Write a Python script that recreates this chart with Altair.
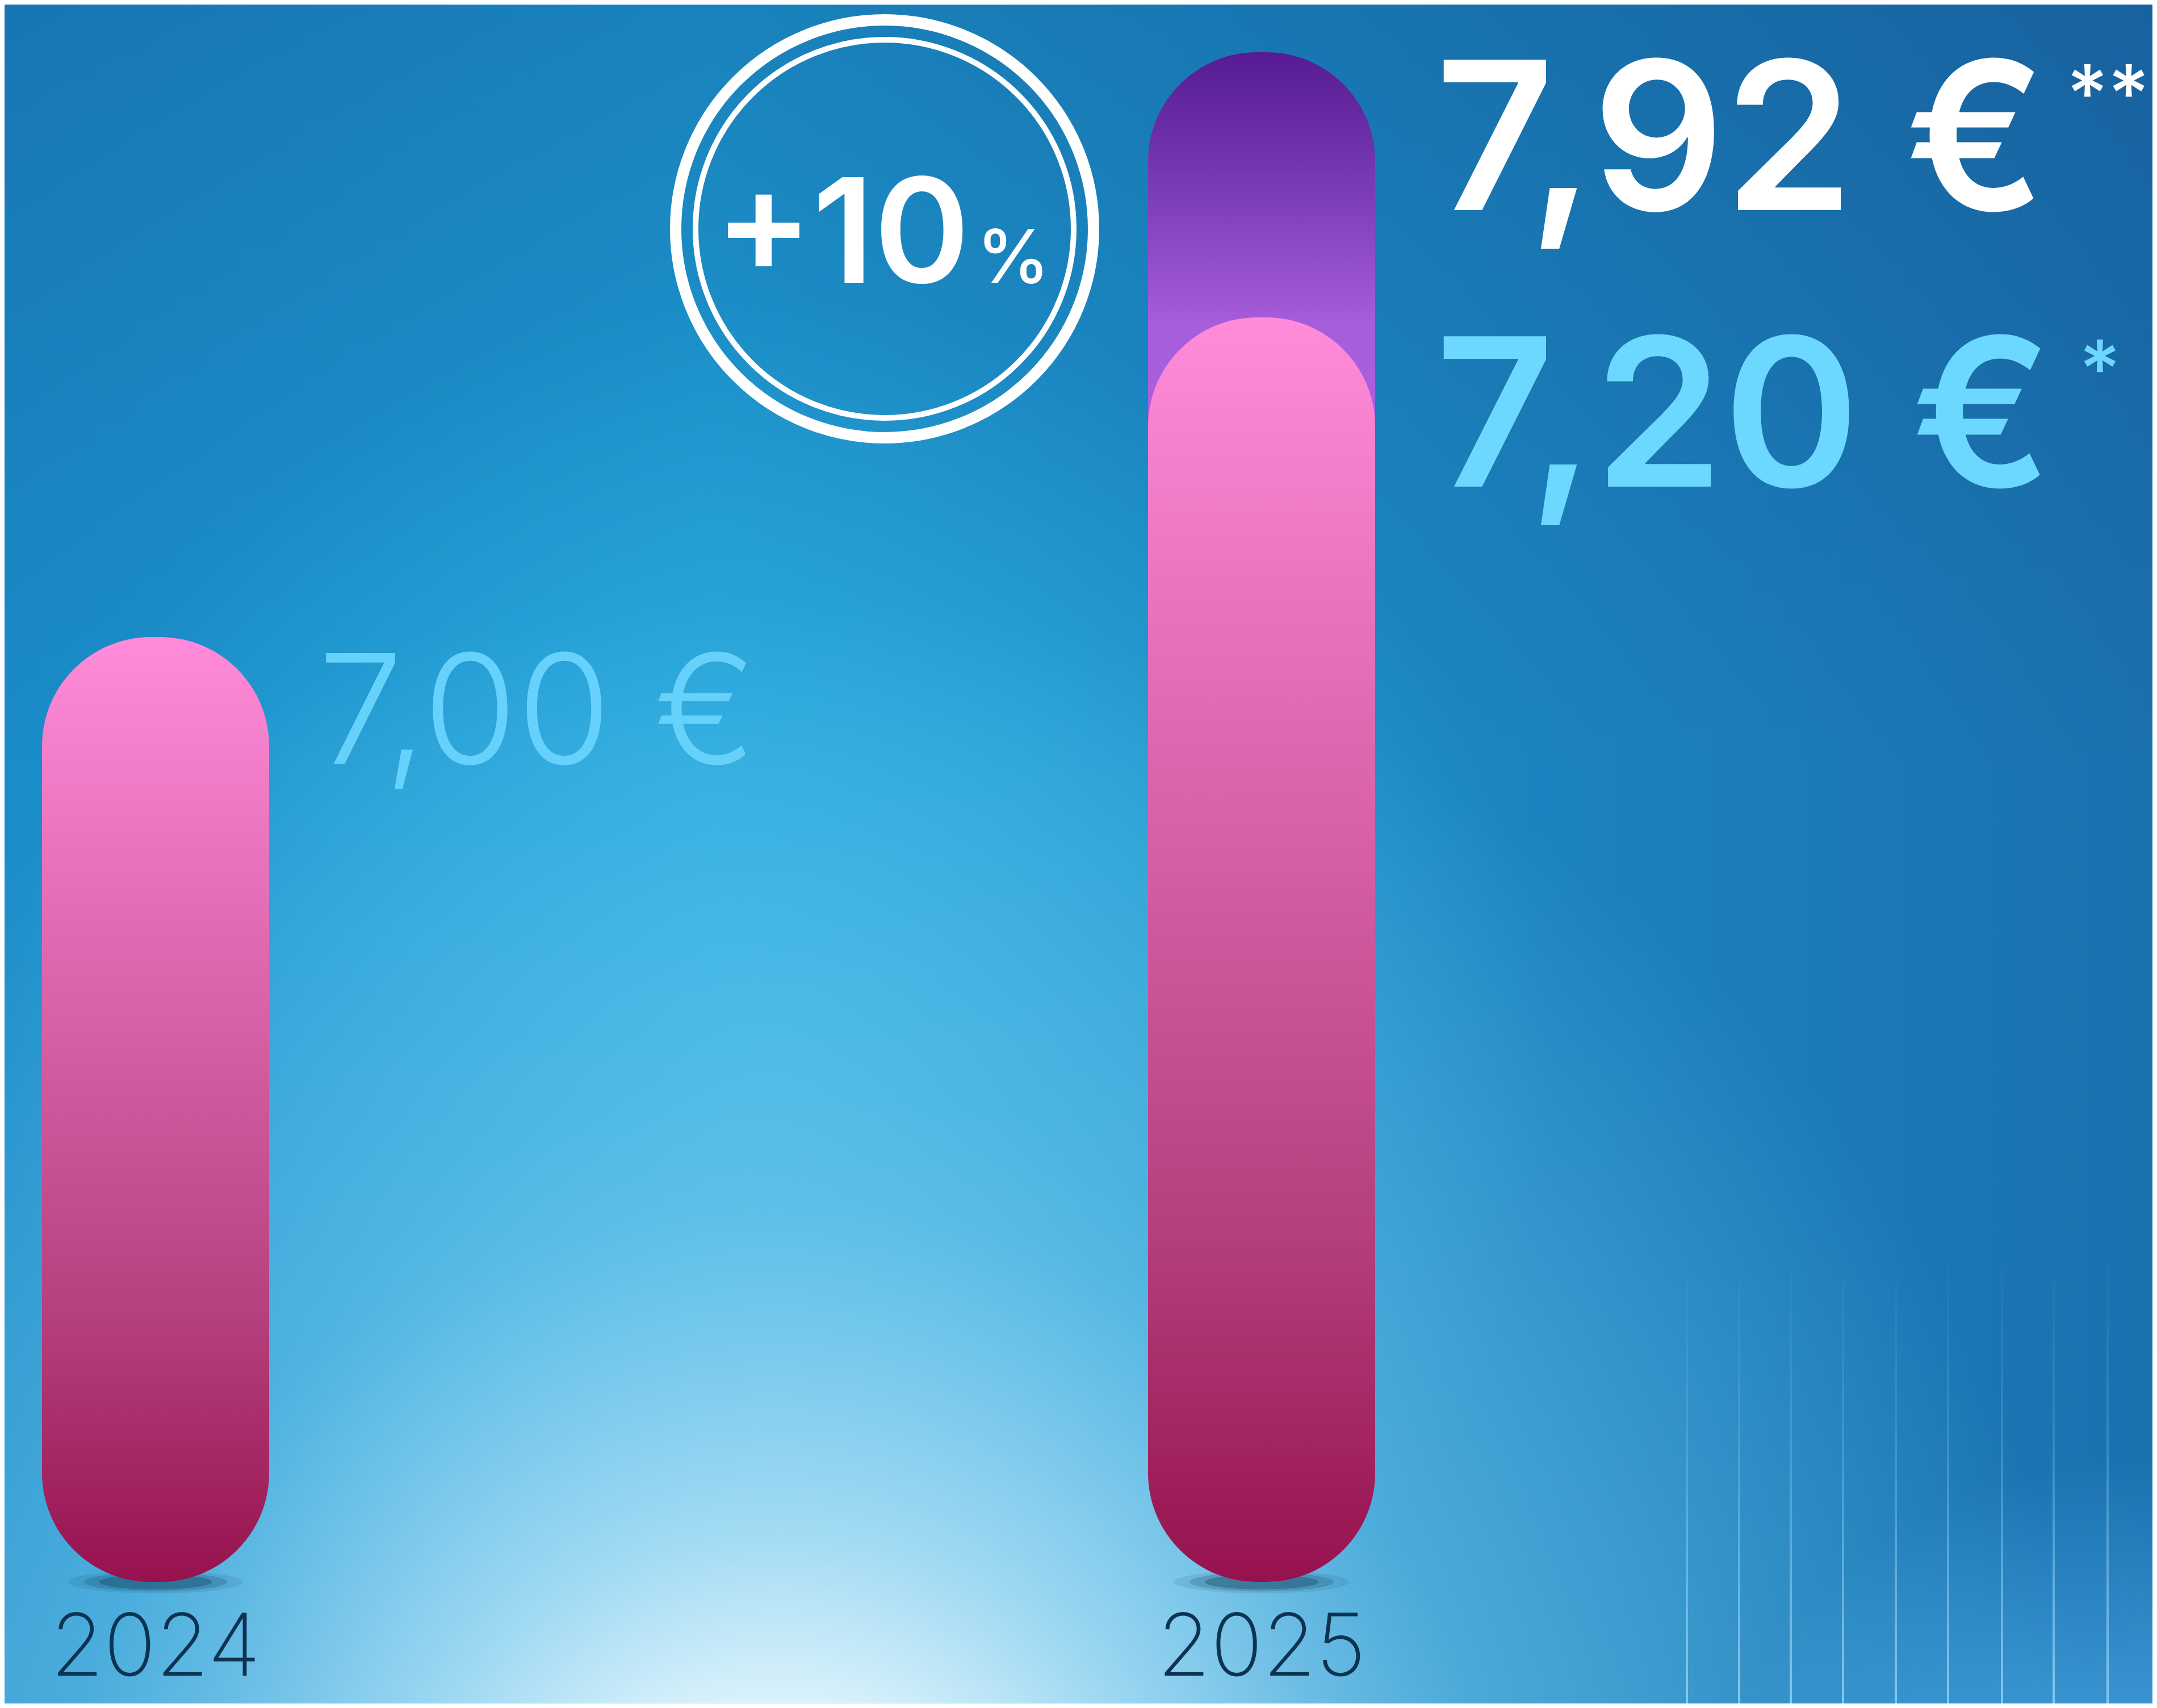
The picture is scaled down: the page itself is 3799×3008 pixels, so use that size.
import altair as alt
import pandas as pd

# ---------------- data ----------------
years = [2024, 2025]
prices = [7.00, 7.20]
price_labels = ["7,00 €", "7,20 €"]
year_labels = ["2024", "2025"]
new_year = [2025]
new_price = [7.92]
new_label = ["7,92 €"]
new_note = ["**"]
base_note = ["*"]

W, H = 3783, 2992
FONT = "Inter, Lato, sans-serif"

df = pd.DataFrame({"year": years, "price": prices, "label": price_labels,
                   "ylabel": year_labels, "base": [0, 0]})
df_old = df[df.year == 2024]
df_cur = df[df.year == 2025].assign(note=base_note)
df_new = pd.DataFrame({"year": new_year, "price": new_price,
                       "label": new_label, "note": new_note})
pct = round((new_price[0] - prices[1]) / prices[1] * 100)
badge = pd.DataFrame({"main": [f"+{pct}"], "unit": ["%"]})
one = pd.DataFrame({"k": [0]})
streak_x = [2961, 3053, 3144, 3236, 3329, 3421, 3516, 3607, 3702]
streaks = pd.DataFrame({"sx": streak_x})

# ---------------- scales ----------------
x_scale = alt.Scale(domain=[2024, 2025], range=[261, 2219])
y_scale = alt.Scale(domain=[0] + sorted(prices + new_price),
                    range=[2778, 1114, 551, 84], zero=False, nice=False)
X = alt.X("year:Q", scale=x_scale, axis=None)
Y = alt.Y("price:Q", scale=y_scale, axis=None)
Y0 = alt.Y("base:Q", scale=y_scale, axis=None)


def lin(stops, x2=0, y2=1):
    return {"gradient": "linear", "x1": 0, "y1": 0, "x2": x2, "y2": y2,
            "stops": [{"offset": o, "color": c} for o, c in stops]}


def rad(cx, cy, r, stops):
    return {"gradient": "radial", "x1": cx, "y1": cy, "r1": 0,
            "x2": cx, "y2": cy, "r2": r,
            "stops": [{"offset": o, "color": c} for o, c in stops]}


def bg(grad):
    return alt.Chart(one).mark_rect(color=grad).encode(
        x=alt.value(0), x2=alt.value("width"),
        y=alt.value(0), y2=alt.value("height"))


bg_layers = [
    bg(lin([(0, "#1A8CC8"), (0.33, "#1E9DD6"), (0.62, "#1B8AC5"), (1, "#1B70AE")], x2=1, y2=0)),
    bg(lin([(0, "rgba(14,60,120,0.28)"), (0.45, "rgba(14,60,120,0)"), (1, "rgba(14,60,120,0)")])),
    bg(rad(0.36, 0.6, 0.36, [(0, "rgba(70,200,240,0.6)"), (1, "rgba(70,200,240,0)")])),
    bg(rad(0.36, 0.85, 0.25, [(0, "rgba(150,215,242,0.5)"), (1, "rgba(150,215,242,0)")])),
    bg(rad(0.36, 1.0, 0.62, [(0, "rgba(242,251,254,1)"), (0.15, "rgba(228,246,253,1)"),
                             (0.3, "rgba(170,222,245,0.9)"), (0.55, "rgba(115,198,236,0.55)"),
                             (1, "rgba(110,195,235,0)")])),
    bg(rad(1.0, 1.0, 0.22, [(0, "rgba(95,190,250,0.85)"), (1, "rgba(95,190,250,0)")])),
]

streak_layer = alt.Chart(streaks).transform_calculate(sx2="datum.sx + 4").mark_rect(
    color=lin([(0, "rgba(150,215,255,0)"), (0.4, "rgba(150,215,255,0.2)"),
               (1, "rgba(170,228,255,0.65)")])
).encode(x=alt.X("sx:Q", scale=None), x2="sx2:Q",
         y=alt.value(2200), y2=alt.value("height"))

# shadows under bars
ellipse = "M-1,0 A1,0.13 0 1,0 1,0 A1,0.13 0 1,0 -1,0 Z"
shadows = [
    alt.Chart(df).mark_point(shape=ellipse, filled=True, color="#0A3550",
                             opacity=op, size=s, strokeWidth=0).encode(x=X, y=Y0)
    for s, op in [(95000, 0.1), (64000, 0.2), (40000, 0.3)]
]

pink = lin([(0, "#FF8BDA"), (0.42, "#D65FA5"), (0.72, "#B5407D"), (1, "#96124E")])
purple = lin([(0, "#561B93"), (0.07, "#7234AE"), (0.18, "#A75EDC"), (1, "#B070E0")])

bar_new = alt.Chart(df_new).mark_bar(color=purple, size=400, cornerRadius=192).encode(
    x=X, y=Y, y2=alt.datum(0))
bar_old = alt.Chart(df).mark_bar(color=pink, size=400, cornerRadius=192).encode(
    x=X, y=Y, y2=alt.datum(0))

lbl_old = alt.Chart(df_old).mark_text(
    align="left", baseline="alphabetic", dx=286, dy=223, font=FONT,
    fontSize=268, fontWeight=300, color="#66D2FB").encode(x=X, y=Y, text="label:N")
lbl_cur = alt.Chart(df_cur).mark_text(
    align="left", baseline="alphabetic", dx=306, dy=298, font=FONT,
    fontSize=364, fontWeight=600, color="#6DD8FF").encode(x=X, y=Y, text="label:N")
lbl_new = alt.Chart(df_new).mark_text(
    align="left", baseline="alphabetic", dx=306, dy=278, font=FONT,
    fontSize=364, fontWeight=600, color="#FFFFFF").encode(x=X, y=Y, text="label:N")
note_cur = alt.Chart(df_cur).mark_text(
    align="left", baseline="alphabetic", dx=1440, dy=141, font=FONT,
    fontSize=140, fontWeight=500, color="#6DD8FF").encode(x=X, y=Y, text="note:N")
note_new = alt.Chart(df_new).mark_text(
    align="left", baseline="alphabetic", dx=1418, dy=123, font=FONT,
    fontSize=140, fontWeight=500, color="#FFFFFF").encode(x=X, y=Y, text="note:N")

years_txt = alt.Chart(df).mark_text(
    align="center", baseline="alphabetic", dy=165, font=FONT,
    fontSize=152, fontWeight=200, color="#0C3450").encode(x=X, y=Y0, text="ylabel:N")

# badge
ring_outer = alt.Chart(one).mark_point(shape="circle", filled=False, color="white",
                                       opacity=1, strokeWidth=20, size=736 ** 2).encode(
    x=alt.value(1550), y=alt.value(395))
ring_inner = alt.Chart(one).mark_point(shape="circle", filled=False, color="white",
                                       opacity=1, strokeWidth=10, size=666 ** 2).encode(
    x=alt.value(1550), y=alt.value(395))
badge_main = alt.Chart(badge).mark_text(
    align="right", baseline="alphabetic", font=FONT, fontSize=256, fontWeight=600,
    color="white").encode(x=alt.value(1700), y=alt.value(490), text="main:N")
badge_unit = alt.Chart(badge).mark_text(
    align="left", baseline="alphabetic", font=FONT, fontSize=130, fontWeight=500,
    color="white").encode(x=alt.value(1712), y=alt.value(490), text="unit:N")

chart = alt.layer(
    *bg_layers, streak_layer, *shadows, bar_new, bar_old,
    lbl_old, lbl_cur, lbl_new, note_cur, note_new, years_txt,
    ring_outer, ring_inner, badge_main, badge_unit,
).properties(
    width=W, height=H, padding=0, autosize=alt.AutoSizeParams(type="none")
).configure_view(stroke=None)

chart.save("out.html", embed_options={"renderer": "svg", "actions": False})
